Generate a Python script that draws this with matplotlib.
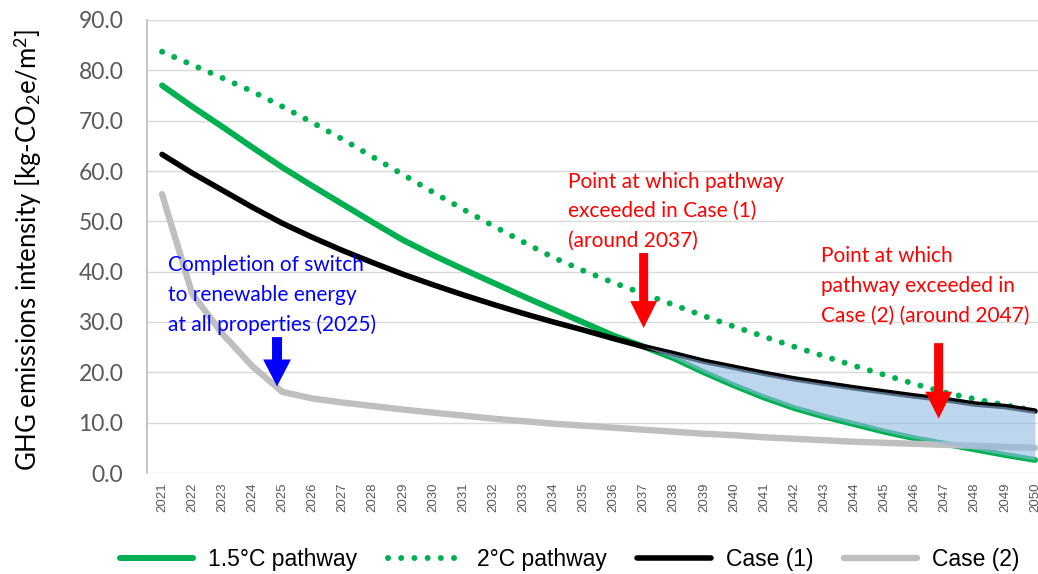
import numpy as np
import matplotlib.pyplot as plt

plt.rcParams['font.family'] = ['Lato', 'DejaVu Sans']
plt.rcParams['mathtext.fontset'] = 'custom'
plt.rcParams['mathtext.rm'] = 'Lato'
plt.rcParams['mathtext.it'] = 'Lato:italic'
plt.rcParams['mathtext.bf'] = 'Lato:bold'

years = list(range(2021, 2051))

# GHG emissions intensity [kg-CO2e/m2]
pathway_15 = [77.0, 72.8, 68.8, 64.7, 60.7, 57.0, 53.4, 49.8, 46.3, 43.3,
              40.5, 37.8, 35.1, 32.5, 29.9, 27.3, 25.1, 22.8, 20.0, 17.4,
              15.0, 12.9, 11.2, 9.7, 8.2, 6.9, 5.8, 4.7, 3.6, 2.6]
pathway_20 = [83.7, 81.1, 78.5, 75.8, 72.8, 69.6, 66.3, 62.8, 59.3, 55.8,
              52.4, 49.1, 45.9, 42.8, 40.2, 37.8, 35.6, 33.4, 31.2, 29.1,
              27.1, 25.1, 23.2, 21.3, 19.5, 17.7, 16.0, 14.7, 13.5, 12.4]
case_1 = [63.3, 59.6, 56.2, 52.8, 49.6, 46.8, 44.2, 41.8, 39.5, 37.4,
          35.4, 33.5, 31.7, 30.0, 28.4, 26.7, 25.1, 23.7, 22.2, 21.0,
          19.8, 18.7, 17.8, 16.9, 16.1, 15.3, 14.6, 13.7, 13.2, 12.3]
case_2 = [55.4, 35.6, 27.7, 21.2, 16.1, 14.8, 14.0, 13.3, 12.6, 12.0,
          11.4, 10.8, 10.3, 9.8, 9.4, 9.0, 8.6, 8.2, 7.8, 7.5,
          7.1, 6.8, 6.5, 6.2, 6.0, 5.8, 5.6, 5.4, 5.2, 5.0]

series_labels = ['1.5\u00b0C pathway', '2\u00b0C pathway', 'Case (1)', 'Case (2)']
y_ticks = np.arange(0, 91, 10)

GREEN = '#00B050'
GRAY = '#BFBFBF'

fig = plt.figure(figsize=(10.38, 5.74), dpi=100)
ax = fig.add_axes([147 / 1038, 101 / 574, 903 / 1038, 453 / 574])

yrs = np.array(years)
l15, = ax.plot(years, pathway_15, color=GREEN, lw=4.3, solid_joinstyle='round',
               solid_capstyle='round', zorder=3)
l20, = ax.plot(years, pathway_20, color=GREEN, lw=4.3, linestyle=(0, (0.01, 2.2)),
               dash_capstyle='round', zorder=3)
lc1, = ax.plot(years, case_1, color='black', lw=4.0, solid_joinstyle='round',
               solid_capstyle='round', zorder=4)
lc2, = ax.plot(years, case_2, color=GRAY, lw=4.6, solid_joinstyle='round',
               solid_capstyle='round', zorder=4)

# gap between Case (1) and the 1.5C pathway after it is exceeded
c1 = np.array(case_1)
p15 = np.array(pathway_15)
ax.fill_between(yrs, c1, p15, where=(yrs >= 2037) & (c1 >= p15), interpolate=True,
                color='#91BBE3', alpha=0.6, lw=0, zorder=5)

ax.set_xlim(2020.5, 2050.5)
ax.set_ylim(0, 90)
ax.set_xticks(years)
ax.set_xticklabels([str(y) for y in years], rotation=90, fontsize=9.5,
                   family='Liberation Sans', color='#595959')
ax.set_yticks(y_ticks)
ax.set_yticklabels([f'{v:.1f}' for v in y_ticks], fontsize=16.5, color='#595959')
ax.tick_params(axis='x', length=0, pad=7)
ax.tick_params(axis='y', length=0, pad=17)
ax.yaxis.grid(True, color='#D9D9D9', lw=1.0)
ax.set_axisbelow(True)
for s in ['top', 'right', 'bottom']:
    ax.spines[s].set_visible(False)
ax.spines['left'].set_color(GRAY)
ax.spines['left'].set_linewidth(1.3)

fig.text(0.027, 0.565, r'GHG emissions intensity [kg-CO$_2$e/m$^2$]',
         rotation=90, ha='center', va='center', fontsize=18.5)

# annotations
ax.text(2021.2, 43.3, 'Completion of switch\nto renewable energy\nat all properties (2025)',
        color='#0000FF', fontsize=15, va='top', ha='left', linespacing=1.6, zorder=6)
ax.text(2034.5, 59.9, 'Point at which pathway\nexceeded in Case (1)\n(around 2037)',
        color='#FF0000', fontsize=15, va='top', ha='left', linespacing=1.6, zorder=6)
ax.text(2042.9, 45.0, 'Point at which\npathway exceeded in\nCase (2) (around 2047)',
        color='#FF0000', fontsize=15, va='top', ha='left', linespacing=1.6, zorder=6)

blue_style = 'simple,head_length=19.4,head_width=20,tail_width=7.2'
red_style = 'simple,head_length=19.4,head_width=19.4,tail_width=6.5'
ax.annotate('', xy=(2024.82, 17.2), xytext=(2024.82, 27.0),
            arrowprops=dict(arrowstyle=blue_style, mutation_scale=1, color='#0000FF',
                            shrinkA=0, shrinkB=0, lw=0), zorder=7)
ax.annotate('', xy=(2037.0, 28.8), xytext=(2037.0, 43.7),
            arrowprops=dict(arrowstyle=red_style, mutation_scale=1, color='#FF0000',
                            shrinkA=0, shrinkB=0, lw=0), zorder=7)
ax.annotate('', xy=(2046.8, 10.8), xytext=(2046.8, 25.8),
            arrowprops=dict(arrowstyle=red_style, mutation_scale=1, color='#FF0000',
                            shrinkA=0, shrinkB=0, lw=0), zorder=7)

fig.legend([l15, l20, lc1, lc2], series_labels, loc='center',
           bbox_to_anchor=(0.549, 0.026), ncol=4, frameon=False,
           prop={'family': 'Liberation Sans', 'size': 16.5},
           handlelength=3.2, handletextpad=0.65, columnspacing=1.35)

fig.savefig('out.png', dpi=100)
